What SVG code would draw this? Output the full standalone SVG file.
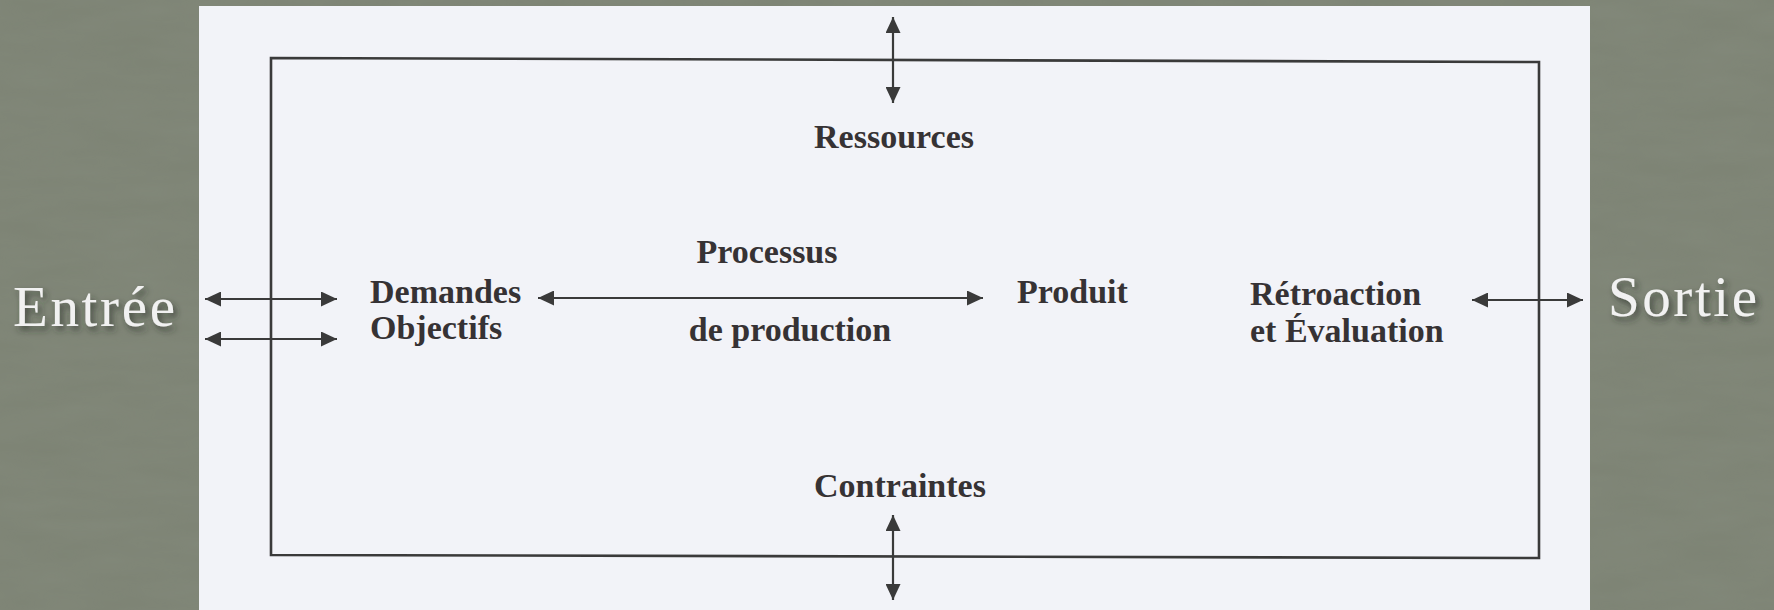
<svg xmlns="http://www.w3.org/2000/svg" width="1774" height="610" viewBox="0 0 1774 610">
  <defs>
    <style>
      .lbl { font-family: "Liberation Serif", "Times New Roman", serif; font-weight: bold; font-size: 34px; fill: #363234; }
      .side { font-family: "Liberation Serif", "Times New Roman", serif; font-size: 57px; fill: #f1f1f1; filter: url(#shadow); }
      .arrow { stroke: #3a3a3a; stroke-width: 2.2; fill: none; marker-start: url(#ah); marker-end: url(#ah); }
      .frame { stroke: #3a3a3a; stroke-width: 2.6; fill: none; }
    </style>
    <marker id="ah" markerUnits="userSpaceOnUse" markerWidth="17" markerHeight="15" refX="16" refY="7.5" orient="auto-start-reverse">
      <path d="M0,0 L16,7.5 L0,15 z" fill="#3a3a3a"/>
    </marker>
    <filter id="shadow" x="-20%" y="-30%" width="140%" height="160%">
      <feDropShadow dx="3" dy="4" stdDeviation="3" flood-color="#2a2e25" flood-opacity="0.7"/>
    </filter>
    <filter id="tex" x="0" y="0" width="100%" height="100%">
      <feTurbulence type="fractalNoise" baseFrequency="0.012 0.05" numOctaves="3" seed="4" result="n"/>
      <feColorMatrix in="n" type="matrix" values="0 0 0 0 0.3  0 0 0 0 0.33  0 0 0 0 0.28  0 0 0 0.35 0"/>
    </filter>
  </defs>

  <g id="background">
    <rect x="0" y="0" width="1774" height="610" fill="#7d8374"/>
    <rect x="0" y="0" width="1774" height="610" filter="url(#tex)" opacity="0.6"/>
    <rect x="199" y="6" width="1391" height="604" fill="#f2f3f8"/>
  </g>

  <g id="frame">
    <polygon class="frame" points="271,58 1539,62 1539,558 271,555"/>
  </g>

  <g id="connectors">
    <line class="arrow" x1="893" y1="17" x2="893" y2="103"/>
    <line class="arrow" x1="893" y1="515" x2="893" y2="600"/>
    <line class="arrow" x1="205" y1="299" x2="337" y2="299"/>
    <line class="arrow" x1="205" y1="339" x2="337" y2="339"/>
    <line class="arrow" x1="538" y1="298" x2="983" y2="298"/>
    <line class="arrow" x1="1472" y1="300" x2="1583" y2="300"/>
  </g>

  <g id="node-entree">
    <text class="side" x="13" y="326" textLength="162" lengthAdjust="spacing">Entrée</text>
  </g>
  <g id="node-sortie">
    <text class="side" x="1608" y="316" textLength="149" lengthAdjust="spacing">Sortie</text>
  </g>
  <g id="node-ressources">
    <text class="lbl" x="894" y="148" text-anchor="middle">Ressources</text>
  </g>
  <g id="node-contraintes">
    <text class="lbl" x="900" y="497" text-anchor="middle">Contraintes</text>
  </g>
  <g id="node-demandes">
    <text class="lbl" x="370" y="303">Demandes</text>
    <text class="lbl" x="370" y="339">Objectifs</text>
  </g>
  <g id="node-processus">
    <text class="lbl" x="767" y="263" text-anchor="middle">Processus</text>
    <text class="lbl" x="790" y="341" text-anchor="middle">de production</text>
  </g>
  <g id="node-produit">
    <text class="lbl" x="1017" y="303">Produit</text>
  </g>
  <g id="node-retroaction">
    <text class="lbl" x="1250" y="305">Rétroaction</text>
    <text class="lbl" x="1250" y="342">et Évaluation</text>
  </g>
</svg>
